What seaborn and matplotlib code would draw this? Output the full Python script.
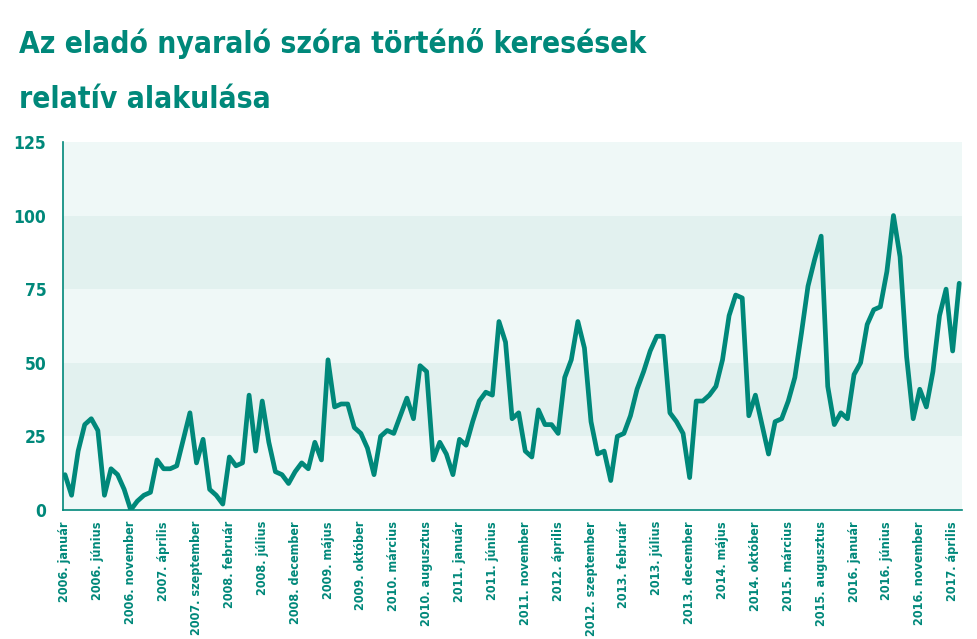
import matplotlib
matplotlib.use("Agg")
import matplotlib.pyplot as plt
from matplotlib import font_manager as fm
import seaborn as sns
import pandas as pd

# --- adatok (havi relatív keresési érték, 2006. január - 2017. május) ---
ertekek = [
    12, 5, 20, 29, 31, 27, 5, 14, 12, 7,
    0, 3, 5, 6, 17, 14, 14, 15, 24, 33,
    16, 24, 7, 5, 2, 18, 15, 16, 39, 20,
    37, 23, 13, 12, 9, 13, 16, 14, 23, 17,
    51, 35, 36, 36, 28, 26, 21, 12, 25, 27,
    26, 32, 38, 31, 49, 47, 17, 23, 19, 12,
    24, 22, 30, 37, 40, 39, 64, 57, 31, 33,
    20, 18, 34, 29, 29, 26, 45, 51, 64, 55,
    30, 19, 20, 10, 25, 26, 32, 41, 47, 54,
    59, 59, 33, 30, 26, 11, 37, 37, 39, 42,
    51, 66, 73, 72, 32, 39, 29, 19, 30, 31,
    37, 45, 60, 76, 85, 93, 42, 29, 33, 31,
    46, 50, 63, 68, 69, 81, 100, 86, 52, 31,
    41, 35, 47, 66, 75, 54, 77,
]

tick_cimkek = [
    "2006. január", "2006. június", "2006. november", "2007. április",
    "2007. szeptember", "2008. február", "2008. július", "2008. december",
    "2009. május", "2009. október", "2010. március", "2010. augusztus",
    "2011. január", "2011. június", "2011. november", "2012. április",
    "2012. szeptember", "2013. február", "2013. július", "2013. december",
    "2014. május", "2014. október", "2015. március", "2015. augusztus",
    "2016. január", "2016. június", "2016. november", "2017. április",
]

y_tickek = [0, 25, 50, 75, 100, 125]

cim_sorok = ["Az eladó nyaraló szóra történő keresések", "relatív alakulása"]

# --- stílus ---
ZOLD = "#00887a"
VILAGOS = "#eff8f7"
SOTET = "#e2f1ef"

sns.set_theme(style="white")
plt.rcParams['font.family'] = ['DejaVu Sans']

# keskeny (condensed / narrow) félkövér betű keresése, ha van
keskeny = None
for f in fm.fontManager.ttflist:
    nev = f.name + " " + f.fname
    szuk = ("Condensed" in nev or "Narrow" in nev
            or f.stretch in ("condensed", "semi-condensed", "extra-condensed"))
    vastag = f.weight in ("bold", "heavy", "black") or (isinstance(f.weight, int) and f.weight >= 600)
    if szuk and vastag:
        keskeny = f.fname
        break

if keskeny:
    def betu(meret):
        return fm.FontProperties(fname=keskeny, size=meret)
    skala = 1.0
else:
    def betu(meret):
        return fm.FontProperties(family="DejaVu Sans", weight="bold", size=meret)
    skala = 0.82

df = pd.DataFrame({"honap": range(len(ertekek)), "ertek": ertekek})

fig = plt.figure(figsize=(9.77, 6.39), dpi=100)
ax = fig.add_axes([0.0645, 0.2019, 0.92, 0.576])
ax.set_facecolor(VILAGOS)

# sávok a háttérben
for also in (25, 75):
    ax.axhspan(also, also + 25, color=SOTET, zorder=0, lw=0)

sns.lineplot(data=df, x="honap", y="ertek", color=ZOLD, linewidth=3.4, ax=ax)

ax.set_xlim(-0.3, 136.4)
ax.set_ylim(0, 125)

ax.set_xticks(range(0, 5 * len(tick_cimkek), 5))
ax.set_xticklabels(tick_cimkek, rotation=90, ha="center", va="top",
                   color=ZOLD, fontproperties=betu(9 * skala))
ax.set_yticks(y_tickek)
ax.set_yticklabels([str(v) for v in y_tickek], color=ZOLD,
                   fontproperties=betu(12.5 * skala))
ax.tick_params(axis="x", length=0, pad=8)
ax.tick_params(axis="y", length=0, pad=12)

ax.set_xlabel("")
ax.set_ylabel("")

for s in ("top", "right"):
    ax.spines[s].set_visible(False)
for s in ("left", "bottom"):
    ax.spines[s].set_color(ZOLD)
    ax.spines[s].set_linewidth(1.2)

# cím két sorban
for sor, y_alap in zip(cim_sorok, (1 - 53 / 639, 1 - 108 / 639)):
    fig.text(0.019, y_alap, sor, ha="left", va="baseline", color=ZOLD,
             fontproperties=betu(21.5 * skala))

fig.savefig("out.png", dpi=100)
